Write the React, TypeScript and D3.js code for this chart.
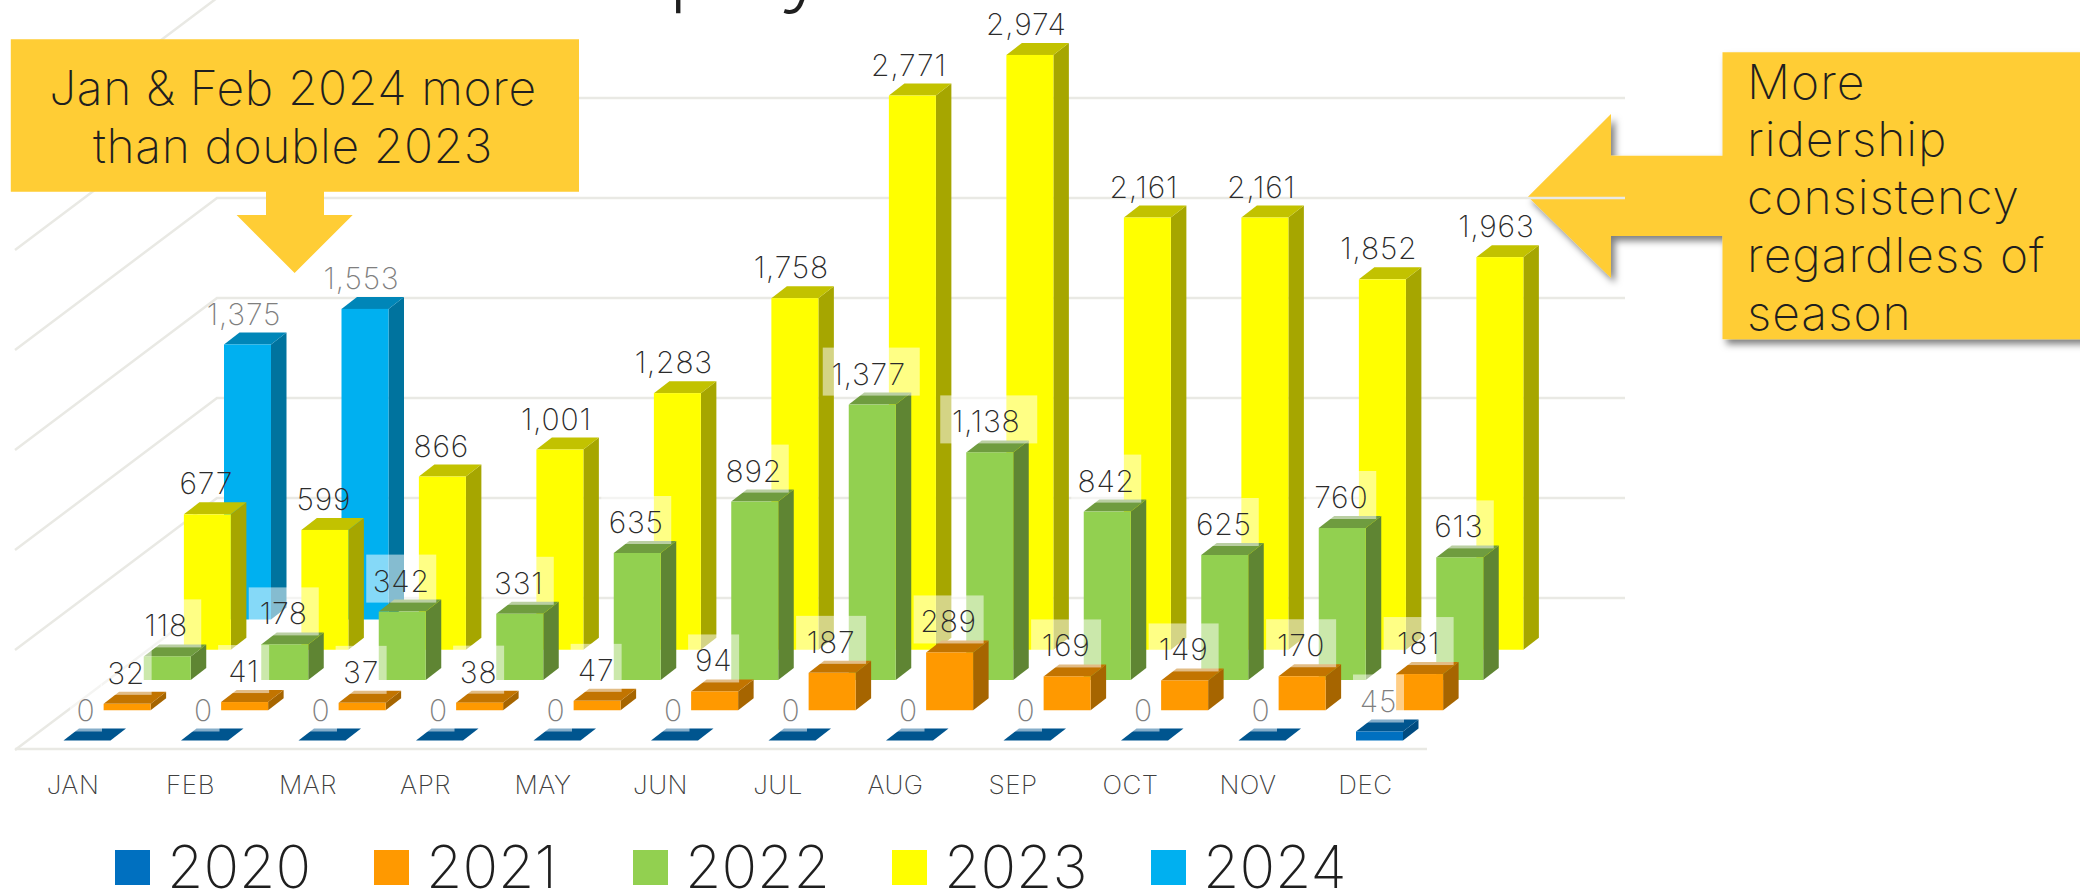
import React from "react"
import * as d3 from "d3"

const months = ["JAN", "FEB", "MAR", "APR", "MAY", "JUN", "JUL", "AUG", "SEP", "OCT", "NOV", "DEC"]
const years = ["2020", "2021", "2022", "2023", "2024"]

const v2020 = [0, 0, 0, 0, 0, 0, 0, 0, 0, 0, 0, 45]
const v2021 = [32, 41, 37, 38, 47, 94, 187, 289, 169, 149, 170, 181]
const v2022 = [118, 178, 342, 331, 635, 892, 1377, 1138, 842, 625, 760, 613]
const v2023 = [677, 599, 866, 1001, 1283, 1758, 2771, 2974, 2161, 2161, 1852, 1963]
const v2024 = [1375, 1553]
const seriesValues = [v2020, v2021, v2022, v2023, v2024]

const gridTicks = [0, 500, 1000, 1500, 2000, 2500, 3000]

const frontColors = ["#0070c0", "#ff9900", "#92d050", "#ffff00", "#00b0f0"]
const topColors = ["#00558f", "#c27400", "#6f9c3f", "#c2c200", "#0086b8"]
const sideColors = ["#004b80", "#a66500", "#5f8533", "#a6a600", "#00739e"]
const labelColors = ["#7f7f7f", "#2b2b2b", "#2b2b2b", "#2b2b2b", "#7f7f7f"]

const FONT = "Inter, Lato, 'Noto Sans', sans-serif"
const INK = "#1f1f1f"
const CALLOUT = "#ffcd35"
const GRID = "#e9e9e4"

const BAR_W = 47
const DEPTH_X = 15.5
const DEPTH_Y = 12

// height above a series' floor line
const h = d3.scaleLinear().domain([0, 500]).range([0, 100])
const monthX = d3.scalePoint<string>().domain(months).range([0, 1292.5])
const seriesX = d3.scalePoint<string>().domain(years).range([63.5, 224])
const seriesBase = d3.scalePoint<string>().domain(years).range([740.5, 619.5])

const fmt = d3.format(",")

const barX = (s: number, m: number) => seriesX(years[s])! + monthX(months[m])!
const barTop = (s: number, v: number) => seriesBase(years[s])! - h(v)

function Bar({ s, m, v }: { s: number; m: number; v: number }) {
  const x = barX(s, m)
  const y0 = seriesBase(years[s])!
  const y1 = barTop(s, v)
  const x1 = x + BAR_W
  return (
    <g>
      <path d={`M${x1},${y1}L${x1 + DEPTH_X},${y1 - DEPTH_Y}V${y0 - DEPTH_Y}L${x1},${y0}Z`} fill={sideColors[s]} />
      <path d={`M${x},${y1}L${x + DEPTH_X},${y1 - DEPTH_Y}H${x1 + DEPTH_X}L${x1},${y1}Z`} fill={topColors[s]} />
      <rect x={x} y={y1} width={BAR_W} height={y0 - y1} fill={frontColors[s]} />
    </g>
  )
}

function Label({ s, m, v }: { s: number; m: number; v: number }) {
  const text = fmt(v)
  const hasComma = text.includes(",")
  const cx = barX(s, m) + BAR_W / 2 - 1
  const cy = barTop(s, v) - DEPTH_Y - 19
  const digits = text.replace(",", "").length
  const w = 13 + digits * 19 + (hasComma ? 8 : 0)
  return (
    <g>
      {s < 3 && <rect x={cx - w / 2} y={cy - 26} width={w} height={48} fill="#fff" fillOpacity={0.52} />}
      <text
        x={hasComma ? cx - 2.5 : cx}
        y={cy + 11}
        textAnchor="middle"
        fontSize={30}
        fontWeight={200}
        letterSpacing={0.8}
        fill={labelColors[s]}
      >
        {text}
      </text>
    </g>
  )
}

export default function App() {
  const backY = (t: number) => 598 - h(t)
  return (
    <svg
      width={2080}
      height={891}
      viewBox="0 0 2080 891"
      fontFamily={FONT}
      style={{ position: "absolute", left: 0, top: 0, background: "#fff" }}
    >
      <defs>
        <filter id="shadow" x="-10%" y="-10%" width="125%" height="125%">
          <feDropShadow dx={4} dy={5} stdDeviation={3.5} floodColor="#000" floodOpacity={0.5} />
        </filter>
      </defs>

      {/* right callout sits under the gridlines */}
      <path
        d="M2090,52.3H1722.5V155.7H1611V114L1528,196.7L1611,278V236H1722.5V339.3H2090Z"
        fill={CALLOUT}
        filter="url(#shadow)"
      />

      {/* walls */}
      {gridTicks.map((t) => (
        <g key={t} fill="none" stroke={GRID} strokeWidth={2.5}>
          <path d={`M15,${backY(t) + 152}L217,${backY(t)}H1625`} />
        </g>
      ))}
      <path d="M15,749H1427" fill="none" stroke={GRID} strokeWidth={2.5} />

      {/* cropped title, only the descenders are inside the page */}
      <g fill={INK} fontSize={100} fontWeight={200}>
        <text x={667} y={-7}>p</text>
        <text x={777} y={-7}>y</text>
      </g>

      {/* back series first */}
      {d3.range(4, -1, -1).map((s) =>
        seriesValues[s].map((v, m) => <Bar key={`${s}-${m}`} s={s} m={m} v={v} />)
      )}
      {d3.range(0, 5).map((s) =>
        seriesValues[s].map((v, m) => <Label key={`${s}-${m}`} s={s} m={m} v={v} />)
      )}

      {/* month labels */}
      {months.map((m) => (
        <text
          key={m}
          x={73 + monthX(m)!}
          y={794}
          textAnchor="middle"
          fontSize={26}
          fontWeight={200}
          letterSpacing={0.5}
          fill="#404040"
        >
          {m}
        </text>
      ))}

      {/* legend */}
      {years.map((y, i) => (
        <g key={y} transform={`translate(${115 + i * 259},0)`}>
          <rect x={0} y={850} width={35} height={35} fill={frontColors[i]} />
          <text x={52} y={888} fontSize={59} fontWeight={200} fill={INK}>{y}</text>
        </g>
      ))}

      {/* left callout */}
      <path
        d="M10.8,39.3H579V191.7H324V215H352.7L294.6,273L236.6,215H266V191.7H10.8Z"
        fill={CALLOUT}
      />
      <g fontSize={48} fontWeight={200} fill={INK} textAnchor="middle" letterSpacing={0.6}>
        <text x={293} y={105}>Jan &amp; Feb 2024 more</text>
        <text x={293} y={163}>than double 2023</text>
      </g>

      {/* right callout text */}
      <g fontSize={48} fontWeight={200} fill={INK} letterSpacing={1}>
        {["More", "ridership", "consistency", "regardless of", "season"].map((line, i) => (
          <text key={line} x={1747} y={98.7 + i * 57.7}>{line}</text>
        ))}
      </g>
    </svg>
  )
}
